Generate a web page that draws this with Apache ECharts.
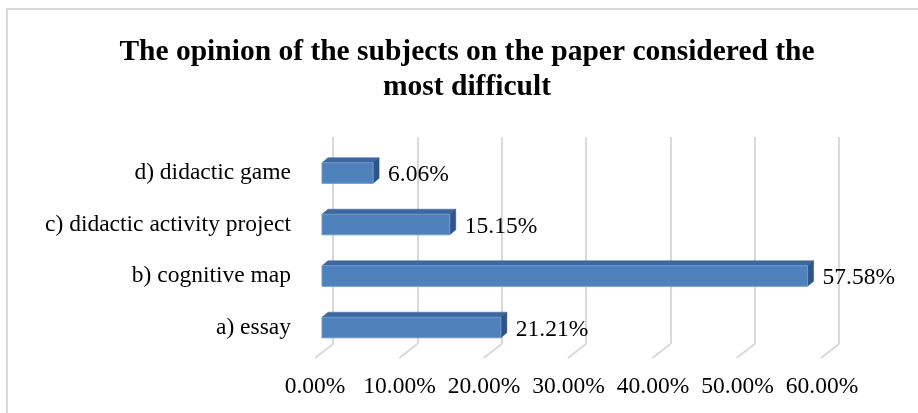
<!DOCTYPE html>
<html>
<head>
<meta charset="utf-8">
<script src="https://cdn.jsdelivr.net/npm/echarts@6/dist/echarts.min.js"></script>
<style>
  html, body { margin: 0; padding: 0; background: #ffffff; }
  #chart { width: 918px; height: 413px; }
</style>
</head>
<body>
<div id="chart"></div>
<script>
// Answers, listed bottom to top as they appear on the category axis
const categories = ['a) essay', 'b) cognitive map', 'c) didactic activity project', 'd) didactic game'];
const shares = [21.21, 57.58, 15.15, 6.06];
// Percentage ticks along the floor
const tickValues = [0, 10, 20, 30, 40, 50, 60];

const FONT = '"Liberation Serif", "Times New Roman", serif';
const GRID_COLOR = '#d9d9d9';
const DEPTH = [6, -5];          // extrusion of each bar
const FLOOR = [-18, 14];        // back wall to front edge of the floor

const chart = echarts.init(document.getElementById('chart'), null, { renderer: 'canvas' });

const pct = v => v.toFixed(2) + '%';

function renderBar(params, api) {
  const cat = api.value(1);
  const v = api.value(0);
  const start = api.coord([0, cat]);
  const end = api.coord([v, cat]);
  const h = api.size([0, 1])[1] * 0.4;
  const x0 = start[0], x1 = end[0];
  const yt = start[1] - h / 2, yb = start[1] + h / 2;
  const [dx, dy] = DEPTH;
  return {
    type: 'group',
    children: [
      {
        type: 'polygon',
        shape: { points: [[x0, yt], [x1, yt], [x1 + dx, yt + dy], [x0 + dx, yt + dy]] },
        style: { fill: '#3c679f', stroke: '#3c679f', lineWidth: 0.5 }
      },
      {
        type: 'polygon',
        shape: { points: [[x1, yt], [x1 + dx, yt + dy], [x1 + dx, yb + dy], [x1, yb]] },
        style: { fill: '#2f5486', stroke: '#2f5486', lineWidth: 0.5 }
      },
      {
        type: 'rect',
        shape: { x: x0, y: yt, width: x1 - x0, height: h },
        style: { fill: '#4f81bd', stroke: '#6e97cc', lineWidth: 1 }
      },
      {
        type: 'text',
        x: x1 + dx + 9,
        y: start[1] + 2,
        style: {
          text: pct(v),
          fill: '#000000',
          font: '23.5px ' + FONT,
          verticalAlign: 'middle',
          align: 'left'
        }
      }
    ]
  };
}

function renderFloorLine(params, api) {
  const top = api.coord([api.value(0), 0]);
  return {
    type: 'line',
    shape: { x1: top[0], y1: top[1], x2: top[0] + FLOOR[0], y2: top[1] + FLOOR[1] },
    style: { stroke: GRID_COLOR, lineWidth: 2 }
  };
}

const option = {
  backgroundColor: '#ffffff',
  animation: false,
  title: {
    text: 'The opinion of the subjects on the paper considered the\nmost difficult',
    left: 462,
    top: 30,
    textAlign: 'center',
    textStyle: {
      fontFamily: FONT,
      fontWeight: 'bold',
      fontSize: 29.5,
      lineHeight: 35,
      color: '#000000'
    }
  },
  graphic: [
    {
      type: 'rect',
      shape: { x: 7, y: 9, width: 1000, height: 600 },
      style: { fill: 'none', stroke: GRID_COLOR, lineWidth: 2 },
      silent: true
    }
  ],
  grid: [
    // front plane of the bars
    { left: 322, width: 506, top: 147.25, height: 206 },
    // back wall
    { left: 333, width: 506, top: 137, height: 207 },
    // front edge of the floor, carries the percentage labels
    { left: 315, width: 507, top: 137, height: 221 }
  ],
  xAxis: [
    {
      gridIndex: 0, type: 'value', min: 0, max: 60, interval: 10,
      axisLine: { show: false }, axisTick: { show: false },
      axisLabel: { show: false }, splitLine: { show: false }
    },
    {
      gridIndex: 1, type: 'value', min: 0, max: 60, interval: 10,
      axisLine: { show: false }, axisTick: { show: false },
      axisLabel: { show: false },
      splitLine: { show: true, lineStyle: { color: GRID_COLOR, width: 2 } }
    },
    {
      gridIndex: 2, type: 'value', min: 0, max: 60, interval: 10,
      axisLine: { show: false }, axisTick: { show: false },
      splitLine: { show: false },
      axisLabel: {
        show: true, margin: 17,
        fontFamily: FONT, fontSize: 23.5, color: '#000000',
        formatter: v => pct(v)
      }
    }
  ],
  yAxis: [
    {
      gridIndex: 0, type: 'category', data: categories,
      axisLine: { show: false }, axisTick: { show: false },
      splitLine: { show: false },
      axisLabel: {
        margin: 31, fontFamily: FONT, fontSize: 23.5, color: '#000000',
        padding: [10, 0, 0, 0]
      }
    },
    {
      gridIndex: 1, type: 'value', min: 0, max: 1, show: false
    },
    {
      gridIndex: 2, type: 'value', min: 0, max: 1, show: false
    }
  ],
  series: [
    {
      type: 'custom',
      xAxisIndex: 1, yAxisIndex: 1,
      renderItem: renderFloorLine,
      data: tickValues.map(v => [v]),
      encode: { x: 0 },
      silent: true,
      z: 1
    },
    {
      type: 'custom',
      xAxisIndex: 0, yAxisIndex: 0,
      renderItem: renderBar,
      data: shares.map((v, i) => [v, i]),
      encode: { x: 0, y: 1 },
      z: 5
    }
  ]
};

chart.setOption(option);
</script>
</body>
</html>
